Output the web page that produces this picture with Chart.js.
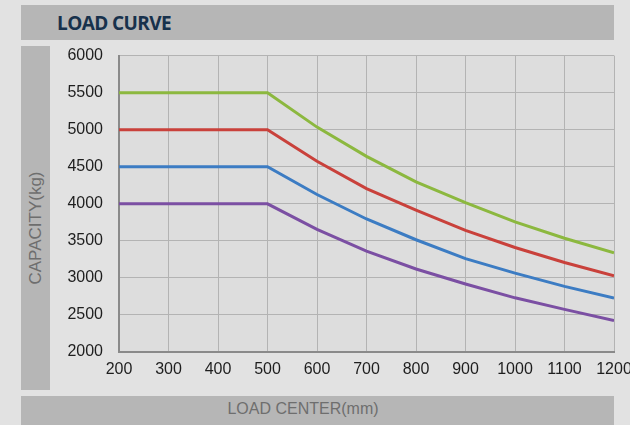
<!DOCTYPE html>
<html>
<head>
<meta charset="utf-8">
<script src="https://cdn.jsdelivr.net/npm/chart.js@4"></script>
<style>
  html, body { margin:0; padding:0; width:630px; height:425px; overflow:hidden; background:#e2e2e2; }
  .bar { position:absolute; background:#b6b6b6; }
  #title { position:absolute; left:57px; top:6px; height:35px; line-height:35px; font-family:"Open Sans", sans-serif; font-weight:700; font-size:19px; color:#17314c; letter-spacing:-0.6px; }
  #ytitle { position:absolute; left:36px; top:228px; transform:translate(-50%,-50%) rotate(-90deg); font-family:"Liberation Sans", Arial, sans-serif; font-size:17px; color:#6e6e6e; white-space:nowrap; }
  #xtitle { position:absolute; left:303px; top:409px; transform:translate(-50%,-50%); font-family:"Liberation Sans", Arial, sans-serif; font-size:16px; color:#6e6e6e; white-space:nowrap; }
  #wrap { position:absolute; left:50px; top:30px; width:600px; height:355px; }
</style>
</head>
<body>
<div class="bar" style="left:21px;top:5px;width:593px;height:35px;"></div>
<div id="title">LOAD CURVE</div>
<div class="bar" style="left:21px;top:46px;width:29px;height:344px;"></div>
<div id="ytitle">CAPACITY(kg)</div>
<div class="bar" style="left:21px;top:396px;width:593px;height:40px;"></div>
<div id="xtitle">LOAD CENTER(mm)</div>
<div id="wrap"><canvas id="c"></canvas></div>
<script>
const loadCenters = [200, 300, 400, 500, 600, 700, 800, 900, 1000, 1100, 1200];
const green  = [5500, 5500, 5500, 5500, 5035, 4640, 4295, 4015, 3755, 3535, 3340];
const red    = [5000, 5000, 5000, 5000, 4575, 4205, 3915, 3642, 3410, 3208, 3027];
const blue   = [4500, 4500, 4500, 4500, 4125, 3795, 3515, 3260, 3065, 2886, 2727];
const purple = [4000, 4000, 4000, 4000, 3655, 3360, 3120, 2918, 2731, 2575, 2424];
const yTicks = [2000, 2500, 3000, 3500, 4000, 4500, 5000, 5500, 6000];
const xTicks = [200, 300, 400, 500, 600, 700, 800, 900, 1000, 1100, 1200];

const toPts = arr => loadCenters.map((x, i) => ({ x: x, y: arr[i] }));
const mk = (arr, color) => ({
  data: toPts(arr), borderColor: color, borderWidth: 3, pointRadius: 0,
  tension: 0, fill: false
});

const plotBg = {
  id: 'plotBg',
  beforeDraw(chart) {
    const { ctx, chartArea: a } = chart;
    ctx.save();
    ctx.fillStyle = '#dddddd';
    ctx.fillRect(a.left, a.top, a.right - a.left, a.bottom - a.top);
    ctx.restore();
  }
};

const tickFont = { family: '"Liberation Sans", Arial, sans-serif', size: 16 };

new Chart(document.getElementById('c'), {
  type: 'line',
  data: { datasets: [mk(green, '#8cb83f'), mk(red, '#c9413b'), mk(blue, '#3c7cc3'), mk(purple, '#7b4fa3')] },
  options: {
    responsive: true, maintainAspectRatio: false, animation: false,
    layout: { padding: { top: 5, right: 36, left: 0, bottom: 0 } },
    plugins: { legend: { display: false }, tooltip: { enabled: false } },
    scales: {
      x: {
        type: 'linear', min: 200, max: 1200,
        afterBuildTicks: s => { s.ticks = xTicks.map(v => ({ value: v })); },
        afterFit: s => { s.height = 33; },
        grid: { color: '#b3b3b3', lineWidth: 1, drawTicks: false },
        border: { color: '#8a8a8a', width: 2 },
        ticks: { font: tickFont, color: '#1e1e1e', padding: 8, maxRotation: 0, autoSkip: false, callback: v => String(v) }
      },
      y: {
        min: 2000, max: 6000,
        afterBuildTicks: s => { s.ticks = yTicks.map(v => ({ value: v })); },
        afterFit: s => { s.width = 69; },
        grid: { color: '#b3b3b3', lineWidth: 1, drawTicks: false },
        border: { color: '#8a8a8a', width: 2 },
        ticks: { font: tickFont, color: '#1e1e1e', padding: 16, autoSkip: false, callback: v => String(v) }
      }
    }
  },
  plugins: [plotBg]
});
</script>
</body>
</html>
